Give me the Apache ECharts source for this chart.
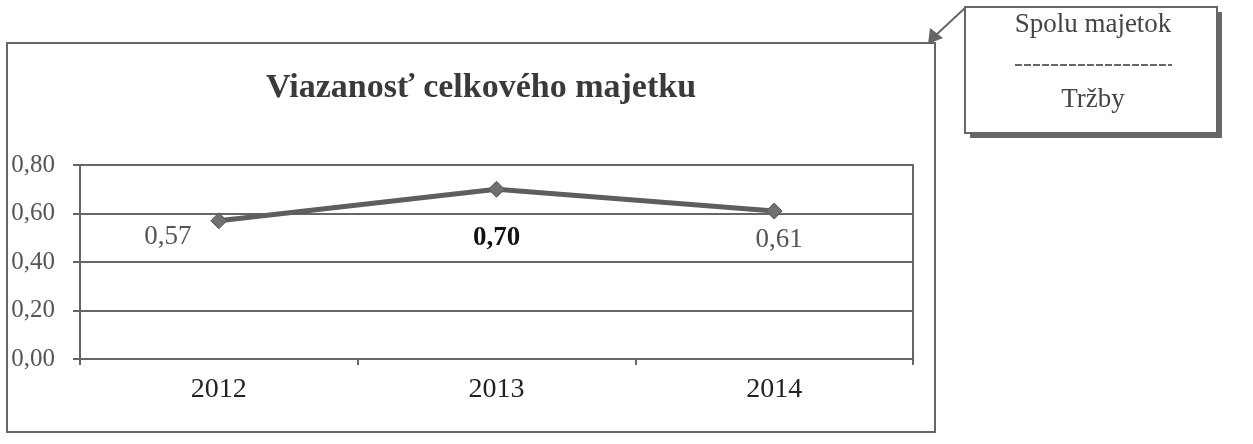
<!DOCTYPE html>
<html>
<head>
<meta charset="utf-8">
<script src="https://cdn.jsdelivr.net/npm/echarts@6/dist/echarts.min.js"></script>
<style>
  html, body { margin: 0; padding: 0; background: #fff; }
  #chart { width: 1253px; height: 444px; }
</style>
</head>
<body>
<div id="chart"></div>
<script>
// data
const years = ['2012', '2013', '2014']
const values = [0.57, 0.70, 0.61]
const yTicks = [0, 0.2, 0.4, 0.6, 0.8]
const titleText = 'Viazanosť celkového majetku'
const boxTop = 'Spolu majetok'
const boxBottom = 'Tržby'

const serif = '"Liberation Serif", "DejaVu Serif", serif'

// label offsets like in excel (dx, dy from point)
const labelOffsets = [[-51, 16], [0, 49], [5, 29]]
let seriesData = []
for (let i = 0; i < values.length; i++) {
  seriesData.push({
    value: values[i],
    label: {
      offset: labelOffsets[i],
      fontWeight: i == 1 ? 'bold' : 'normal',
      color: i == 1 ? '#111' : '#555'
    }
  })
}

let chart = echarts.init(document.getElementById('chart'))

let option = {
  animation: false,
  backgroundColor: '#fff',
  title: {
    text: titleText,
    left: 476,
    top: 66,
    textAlign: 'center',
    textStyle: { fontFamily: serif, fontSize: 34, fontWeight: 'bold', color: '#3a3a3a' }
  },
  grid: {
    left: 80, top: 165, right: 340, bottom: 85,
    show: true,
    borderColor: '#666',
    borderWidth: 2
  },
  xAxis: {
    type: 'category',
    data: years,
    boundaryGap: true,
    axisLine: { lineStyle: { color: '#666', width: 2 } },
    axisTick: { show: true, length: 6, lineStyle: { color: '#666', width: 2 } },
    axisLabel: { margin: 17, fontFamily: serif, fontSize: 28, color: '#222' }
  },
  yAxis: {
    type: 'value',
    min: yTicks[0],
    max: yTicks[yTicks.length - 1],
    interval: 0.2,
    axisLine: { show: true, lineStyle: { color: '#666', width: 2 } },
    axisTick: { show: true, length: 7, lineStyle: { color: '#666', width: 2 } },
    splitLine: { lineStyle: { color: '#666', width: 2 } },
    axisLabel: {
      margin: 25,
      fontFamily: serif, fontSize: 25, color: '#555',
      formatter: v => v.toFixed(2).replace('.', ',')
    }
  },
  series: [{
    type: 'line',
    data: seriesData,
    symbol: 'diamond',
    symbolSize: 16,
    lineStyle: { color: '#5e5e5e', width: 5 },
    itemStyle: { color: '#707070', borderColor: '#555', borderWidth: 1 },
    label: {
      show: true,
      position: 'inside',
      fontFamily: serif,
      fontSize: 27,
      formatter: p => p.value.toFixed(2).replace('.', ',')
    }
  }],
  graphic: [
    // outer frame of the chart
    { type: 'rect', shape: { x: 7, y: 43, width: 928, height: 389 },
      style: { fill: 'none', stroke: '#666', lineWidth: 2 } },
    // callout box shadow + box
    { type: 'rect', shape: { x: 970, y: 12, width: 252, height: 126 },
      style: { fill: '#666' } },
    { type: 'rect', shape: { x: 965, y: 7, width: 252, height: 126 },
      style: { fill: '#fff', stroke: '#666', lineWidth: 2 } },
    { type: 'text', x: 1093, y: 25,
      style: { text: boxTop, fontFamily: serif, fontSize: 27, fill: '#444', align: 'center', verticalAlign: 'middle' } },
    { type: 'line', shape: { x1: 1015, y1: 65, x2: 1172, y2: 65 },
      style: { stroke: '#666', lineWidth: 2, lineDash: [7, 2] } },
    { type: 'text', x: 1093, y: 100,
      style: { text: boxBottom, fontFamily: serif, fontSize: 27, fill: '#444', align: 'center', verticalAlign: 'middle' } },
    // arrow from box to the chart
    { type: 'line', shape: { x1: 965, y1: 8, x2: 937, y2: 34 },
      style: { stroke: '#666', lineWidth: 2 } },
    { type: 'polygon', shape: { points: [[928, 44], [930, 28], [943, 38]] },
      style: { fill: '#666' } }
  ]
}

chart.setOption(option)
</script>
</body>
</html>
